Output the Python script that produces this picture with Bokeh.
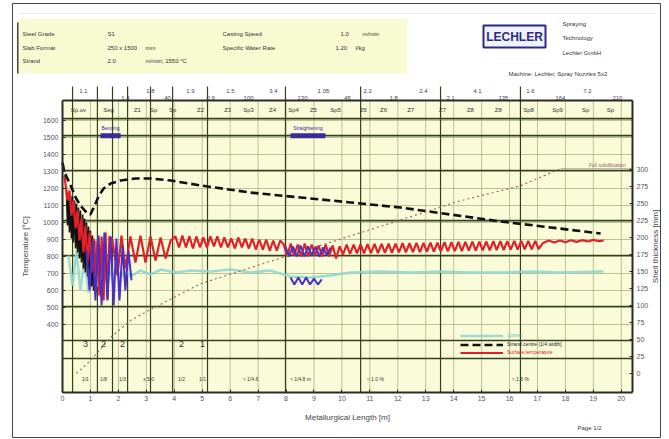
from bokeh.plotting import figure
from bokeh.models import (Range1d, LinearAxis, FixedTicker, Label,
                          BoxAnnotation, Legend, LegendItem)
from bokeh.core.properties import value
from bokeh.embed import file_html
from bokeh.resources import INLINE

FONT = "Liberation Sans"

# ---------------- axis ticks ----------------
length_ticks = list(range(0, 21))
temp_ticks = [400, 500, 600, 700, 800, 900, 1000, 1100, 1200, 1300, 1400, 1500, 1600]
shell_ticks = [0, 25, 50, 75, 100, 125, 150, 175, 200, 225, 250, 275, 300]
length_max = 20.4
temp_top = 1717

# ---------------- series ----------------
center_x = [0, 0.07, 0.14, 0.29, 0.47, 0.64, 0.86, 1.00, 1.15, 1.29, 1.47, 1.72, 2.08, 2.61,
            3.15, 3.87, 4.94, 6.73, 8.52, 10.31, 12.10, 13.89, 15.68, 17.47, 19.26]
center_t = [1353, 1294, 1271, 1218, 1147, 1100, 1059, 1047, 1100, 1153, 1200, 1229, 1247, 1259,
            1259, 1247, 1218, 1176, 1147, 1118, 1088, 1047, 1006, 971, 935]

mould_x = [0.14, 0.18, 0.22, 0.25, 0.29, 0.32, 0.36, 0.39, 0.43, 0.47, 0.50, 0.54, 0.57, 0.61,
           0.64, 0.68, 0.72, 0.75, 0.79, 0.82, 0.86, 0.90, 0.93, 0.97, 1.00, 1.04, 1.07, 1.11,
           1.15, 1.18]
mould_t = [1188, 982, 1176, 941, 1159, 906, 1153, 882, 1129, 847, 1112, 824, 1088, 788,
           1071, 765, 1047, 729, 1023, 706, 1000, 682, 976, 647, 953, 623, 923, 600, 894, 588]

surface_x = [0.07, 0.18, 0.25, 0.32, 0.39, 0.47, 0.54, 0.61, 0.68, 0.75, 0.82, 0.89, 0.97, 1.04,
             1.11, 1.18, 1.25, 1.32, 1.40, 1.47, 1.54, 1.61, 1.68,
             1.79, 1.97, 2.11, 2.25, 2.43, 2.61, 2.79, 2.97, 3.15, 3.33, 3.51, 3.69, 3.87,
             4.04, 4.17, 4.29, 4.42, 4.54, 4.67, 4.79, 4.92, 5.04, 5.17, 5.29, 5.42, 5.54, 5.67,
             5.79, 5.92, 6.04, 6.17, 6.29, 6.42, 6.54, 6.67, 6.79, 6.92, 7.04, 7.17, 7.29, 7.42,
             7.54, 7.67, 7.79,
             7.92, 8.04, 8.17, 8.29, 8.42, 8.54, 8.67, 8.79, 8.92, 9.04, 9.17, 9.29, 9.42, 9.54,
             9.67, 9.79, 9.92,
             10.04, 10.17, 10.29, 10.42, 10.54, 10.67, 10.79, 10.92, 11.04, 11.17, 11.29, 11.42,
             11.54, 11.67, 11.79, 11.92, 12.04, 12.17, 12.29, 12.42, 12.54, 12.67, 12.79, 12.92,
             13.04, 13.17, 13.29, 13.42, 13.54, 13.67, 13.79, 13.92, 14.04, 14.17, 14.29, 14.42,
             14.54, 14.67, 14.79, 14.92, 15.04, 15.17, 15.29, 15.42, 15.54, 15.67, 15.79, 15.92,
             16.04, 16.17, 16.29, 16.42, 16.54, 16.67, 16.79, 16.92, 17.04,
             17.2, 17.4, 17.6, 17.8, 18.0, 18.2, 18.4, 18.6, 18.8, 19.0, 19.2, 19.37]
surface_t = [1276, 1129, 1188, 1041, 1129, 965, 1071, 894, 1023, 824, 982, 765, 941, 706,
             906, 629, 894, 571, 918, 541, 941, 553, 918,
             894, 688, 923, 729, 918, 765, 923, 765, 918, 776, 912, 788, 894,
             918, 853, 923, 853, 918, 847, 918, 853, 912, 853, 918, 859, 918, 853,
             912, 853, 906, 847, 912, 853, 906, 847, 906, 841, 900, 841, 900, 835, 894, 835, 894,
             870, 800, 876, 806, 870, 800, 876, 800, 870, 806, 865, 800, 870, 800,
             865, 788, 860,
             812, 870, 815, 870, 818, 872, 818, 872, 820, 874, 820, 874, 822, 876, 822, 876,
             824, 878, 824, 878, 826, 880, 826, 880, 828, 882, 828, 882, 830, 884, 830, 884,
             832, 886, 832, 886, 834, 888, 834, 888, 836, 888, 836, 890, 838, 890, 838, 890,
             840, 892, 840, 892, 842, 892, 842, 892, 844,
             880, 894, 882, 894, 884, 896, 886, 896, 888, 898, 890, 894]

blue1_x = [0.86, 0.97, 1.07, 1.18, 1.29, 1.40, 1.50, 1.61, 1.72, 1.83, 1.93, 2.04, 2.15, 2.25,
           2.36, 2.47]
blue1_t = [835, 600, 894, 541, 923, 512, 941, 541, 918, 512, 906, 541, 865, 600, 835, 659]
blue2_x = [7.98, 8.11, 8.25, 8.38, 8.52, 8.65, 8.79, 8.92, 9.06, 9.19, 9.33, 9.46, 9.59]
blue2_t = [859, 800, 859, 800, 865, 800, 859, 806, 859, 800, 853, 806, 853]
blue3_x = [8.16, 8.30, 8.44, 8.58, 8.72, 8.86, 9.00, 9.14, 9.28]
blue3_t = [676, 635, 676, 635, 676, 635, 670, 635, 665]

corner_x = [0.21, 0.36, 0.50, 0.64, 0.79, 0.93, 1.07, 1.22, 1.36, 1.50, 1.65, 1.79, 1.93, 2.08,
            2.25, 2.43, 2.79, 3.15, 3.51, 4.04, 4.58, 5.30, 6.01, 6.73, 7.44, 8.16, 8.88, 9.59,
            10.31, 11.38, 12.46, 13.53, 14.60, 15.68, 16.75, 17.82, 19.36]
corner_t = [806, 629, 835, 600, 788, 588, 765, 623, 747, 647, 741, 659, 729, 671,
            718, 682, 718, 694, 723, 706, 718, 712, 723, 706, 718, 682, 676, 688,
            706, 712, 706, 712, 706, 706, 712, 706, 712]

shell_x = [0.50, 1.00, 1.72, 2.43, 3.15, 4.94, 7.98, 10.67, 14.24, 16.39, 17.82]
shell_mm = [0, 19, 53, 78, 94, 132, 172, 207, 254, 276, 301]
solid_x = [17.82, 20.4]
solid_mm = [301, 301]

bar_x0 = [1.36, 8.16]
bar_x1 = [2.08, 9.41]
bar_t = 1511
bar_names = ["Bending", "Straightening"]

zone_x = [0.57, 1.65, 2.68, 3.26, 3.94, 4.94, 5.91, 6.66, 7.52, 8.27, 8.98, 9.77, 10.77, 11.49,
          12.46, 13.60, 14.60, 15.60, 16.68, 17.72, 18.72, 19.61]
zone_names = ["Sp.ov", "Seg", "Z1", "Sp", "Sp", "Z2", "Z3", "Sp3", "Z4", "Sp4", "Z5", "Sp5",
              "Z6", "Z6", "Z7", "Z7", "Z8", "Z8", "Sp8", "Sp9", "Sp", "Sp"]
zone_bounds = [0.36, 1.25, 1.79, 2.33, 3.15, 3.94, 5.19, 7.98, 10.67, 13.53, 16.39]

top1_x = [0.75, 3.15, 4.58, 6.01, 7.55, 9.34, 10.92, 12.92, 14.85, 16.75, 18.79]
top1_txt = ["1.1", "1.8", "1.9", "1.5", "3.4", "1.05", "2.2", "2.4", "4.1", "1.6", "7.2"]
top2_x = [2.25, 3.76, 5.30, 6.66, 8.59, 10.20, 11.85, 13.89, 15.78, 17.82, 19.86]
top2_txt = ["1.4", "40", "0.9", "100", "130", "45", "1.8", "2.1", "135", "164", "210"]

thick_t = [1611, 1511, 1306, 1011, 806, 506, 306, 200]

tab_big_x = [0.82, 1.47, 2.15, 4.26, 5.01]
tab_big_txt = ["3", "2", "2", "2", "1"]
tab_small_x = [0.82, 1.47, 2.15, 3.08, 4.26, 5.01, 6.73, 8.52, 11.20, 16.39]
tab_small_txt = ["1/1", "1/8", "1/3", "x 5.0", "1/2", "1/1", "≈ 1/4.6", "≈ 1/4.8 m",
                 "≈ 1.0 %", "≈ 1.6 %"]

# ---------------- figure (frame covers the whole page) ----------------
W, H = 668, 438
p = figure(width=W, height=H, x_range=Range1d(-2.219, 21.689), y_range=Range1d(-270.6, 2305.9),
           output_backend="svg", toolbar_location=None, x_axis_location=None,
           y_axis_location=None, min_border=0)
p.grid.visible = False
p.outline_line_color = None
p.background_fill_color = "white"
p.border_fill_color = "white"
p.extra_y_ranges = {"shell": Range1d(-95.6, 548.5)}

p.quad(left=[0], right=[length_max], bottom=[0], top=[temp_top], fill_color="#fafcd9",
       line_color=None)
p.segment(x0=length_ticks, y0=[0] * len(length_ticks), x1=length_ticks,
          y1=[temp_top] * len(length_ticks), line_color="#aab285", line_width=0.8)
p.segment(x0=[0] * len(temp_ticks), y0=temp_ticks, x1=[length_max] * len(temp_ticks),
          y1=temp_ticks, line_color="#aab285", line_width=0.8)
p.segment(x0=[0] * len(thick_t), y0=thick_t, x1=[length_max] * len(thick_t), y1=thick_t,
          line_color="#36401f", line_width=1.6)
p.segment(x0=zone_bounds, y0=[0] * len(zone_bounds), x1=zone_bounds,
          y1=[1800] * len(zone_bounds), line_color="#36401f", line_width=1.2)
p.segment(x0=[0], y0=[temp_top], x1=[length_max], y1=[temp_top], line_color="#2b2b2b",
          line_width=2)


def style_axis(ax):
    ax.major_label_text_font = FONT
    ax.major_label_text_font_size = "7px"
    ax.major_label_text_color = "#555"
    ax.axis_label_text_font = FONT
    ax.axis_label_text_font_size = "8px"
    ax.axis_label_text_font_style = "normal"
    ax.axis_label_text_color = "#444"
    ax.axis_line_color = "#2b2b2b"
    ax.axis_line_width = 2
    ax.major_tick_out = 0
    ax.major_tick_in = 3
    ax.minor_tick_line_color = None
    ax.major_tick_line_color = "#2b2b2b"
    ax.major_label_standoff = 4


lax = LinearAxis(ticker=FixedTicker(ticks=temp_ticks), axis_label="Temperature [°C]",
                 fixed_location=0, bounds=(0, temp_top))
style_axis(lax)
lax.axis_label_standoff = 10
p.add_layout(lax, "left")

rax = LinearAxis(y_range_name="shell", ticker=FixedTicker(ticks=shell_ticks),
                 fixed_location=length_max, bounds=(-27.9, 401.5))
style_axis(rax)
p.add_layout(rax, "right")

bax = LinearAxis(ticker=FixedTicker(ticks=length_ticks), axis_label="Metallurgical Length [m]",
                 fixed_location=0, bounds=(0, length_max))
style_axis(bax)
bax.axis_label_standoff = 8
p.add_layout(bax, "below")

# ---------------- curves ----------------
r_corner = p.line(corner_x, corner_t, line_color="#92d6cf", line_width=2.5, line_alpha=0.9)
p.line(mould_x, mould_t, line_color="#111111", line_width=1.6)
r_surf = p.line(surface_x, surface_t, line_color="#e3202a", line_width=2.2)
p.multi_line([blue1_x, blue2_x, blue3_x], [blue1_t, blue2_t, blue3_t],
             line_color="#4a30c8", line_width=2)
r_center = p.line(center_x, center_t, line_color="#111111", line_width=2.6, line_dash="8 4")
p.line(shell_x, shell_mm, y_range_name="shell", line_color="#a06a5a", line_width=1.2,
       line_dash="2 3")
p.line(solid_x, solid_mm, y_range_name="shell", line_color="#b09a90", line_width=1)

p.segment(x0=bar_x0, y0=[bar_t] * 2, x1=bar_x1, y1=[bar_t] * 2, line_color="#3a2a9a",
          line_width=5)
p.text(x=[(a + b) / 2 for a, b in zip(bar_x0, bar_x1)], y=[bar_t + 45] * 2, text=bar_names,
       text_font=value(FONT), text_font_size="5px", text_color="#3a2a9a",
       text_align="center", text_baseline="middle")
p.text(x=[19.5], y=[1341], text=["Full solidification"], text_font=value(FONT),
       text_font_size="5px", text_color="#8a6a5a", text_align="center", text_baseline="middle")

p.text(x=zone_x, y=[1664] * len(zone_x), text=zone_names, text_font=value(FONT),
       text_font_size="6px", text_color="#333", text_align="center", text_baseline="middle")
p.text(x=top1_x, y=[1776] * len(top1_x), text=top1_txt, text_font=value(FONT),
       text_font_size="6px", text_color="#444", text_align="center", text_baseline="middle")
p.text(x=top2_x, y=[1735] * len(top2_x), text=top2_txt, text_font=value(FONT),
       text_font_size="6px", text_color="#444", text_align="center", text_baseline="middle")

p.text(x=tab_big_x, y=[285] * len(tab_big_x), text=tab_big_txt, text_font=value(FONT),
       text_font_size="9px", text_color="#333", text_align="center", text_baseline="middle")
p.text(x=tab_small_x, y=[80] * len(tab_small_x), text=tab_small_txt, text_font=value(FONT),
       text_font_size="5px", text_color="#333", text_align="center", text_baseline="middle")

for label, rend, col, ly in [("Corner", r_corner, "#5fbdb3", 99.5),
                             ("Strand centre (1/4 width)", r_center, "#222", 90.5),
                             ("Surface temperature", r_surf, "#e3202a", 82.5)]:
    p.add_layout(Legend(items=[LegendItem(label=label, renderers=[rend])], location=(460, ly),
                        background_fill_alpha=0, border_line_alpha=0, label_text_font=FONT,
                        label_text_font_size="5px", label_text_color=col, glyph_width=43,
                        glyph_height=7, label_height=7, spacing=0, padding=0, margin=0,
                        label_standoff=4))


# ---------------- page header (screen units, origin bottom-left of page) ----------------
def box(l, r, b, t, fill=None, line=None, lw=1):
    p.add_layout(BoxAnnotation(left=l, right=r, bottom=b, top=t, left_units="screen",
                               right_units="screen", bottom_units="screen", top_units="screen",
                               fill_color=fill, fill_alpha=1 if fill else 0,
                               line_color=line, line_alpha=1 if line else 0, line_width=lw,
                               level="underlay"))


def lab(x, y, t, size="6px", color="#333", bold=False, align="left", angle=0.0):
    p.add_layout(Label(x=x, y=y, x_units="screen", y_units="screen", text=t,
                       text_font=FONT, text_font_size=size, text_color=color,
                       text_font_style="bold" if bold else "normal", angle=angle,
                       text_align=align, text_baseline="middle"))


box(12, 660, 1, 435, line="#444")
box(17, 655, 425, 425.6, fill="#dddddd")
box(17, 407, 365, 420, fill="#f8fbd2")
box(16.5, 18, 365, 416, fill="#444")

lab(22, 405, "Steel Grade")
lab(107, 405, "S1")
lab(222, 405, "Casting Speed")
lab(340, 405, "1.0")
lab(362, 405, "m/min")
lab(22, 391, "Slab Format")
lab(107, 391, "250 x 1500")
lab(145, 391, "mm")
lab(222, 391, "Specific Water Rate")
lab(335, 391, "1.20")
lab(355, 391, "l/kg")
lab(22, 378, "Strand")
lab(107, 378, "2.0")
lab(145, 378, "m/min; 1550 °C")

box(483, 545, 391, 413, fill="#f2f2fb", line="#2a2a8a", lw=2)
lab(514, 402, "LECHLER", size="12px", color="#2a2a8a", bold=True, align="center")
lab(562, 415, "Spraying")
lab(562, 401, "Technology")
lab(562, 386, "Lechler GmbH")
lab(508, 365, "Machine: Lechler, Spray Nozzles 5x2")
lab(577, 11, "Page 1/2")
lab(655, 192, "Shell thickness [mm]", size="8px", color="#444", align="center", angle=1.5708)

open("out.html", "w").write(file_html(p, INLINE))
